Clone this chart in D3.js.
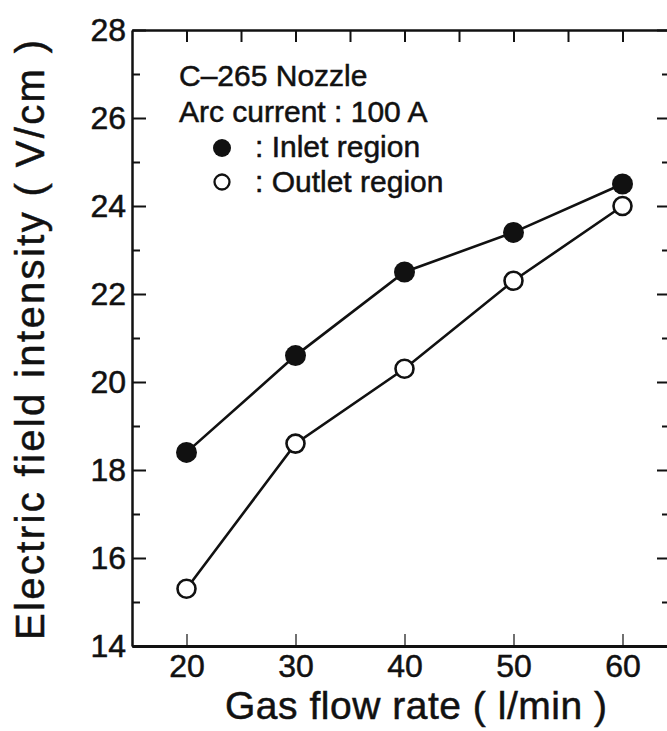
<!DOCTYPE html>
<html>
<meta charset="utf-8">
<style>
  body { margin: 0; background: #fff; }
  svg { font-family: "Liberation Sans", Arial, sans-serif; }
  .axis path, .axis line { stroke: #111; }
  .axis text { fill: #111; }
  .heavy { stroke: #111; stroke-width: 0.5; }
</style>
<body>
<script src="https://d3js.org/d3.v7.min.js"></script>
<script>
  // data
  let flowRates = [20, 30, 40, 50, 60];
  let inletField = [18.4, 20.6, 22.5, 23.4, 24.5];
  let outletField = [15.3, 18.6, 20.3, 22.3, 24.0];
  let xTicks = [20, 30, 40, 50, 60];
  let xMinorTicks = [25, 35, 45, 55];
  let yTicks = [14, 16, 18, 20, 22, 24, 26, 28];
  let yMinorTicks = [15, 17, 19, 21, 23, 25, 27];

  const W = 667, H = 731;
  const svg = d3.select("body").append("svg").attr("width", W).attr("height", H);

  const x = d3.scaleLinear().domain([15, 65]).range([132, 677]);
  const y = d3.scaleLinear().domain([14, 28]).range([646, 30]);
  const plotLeft = x(15), plotRight = x(65), plotTop = y(28), plotBottom = y(14);

  // left axis: ticks pointing inside, labels outside
  svg.append("g").attr("class", "axis")
    .attr("transform", `translate(${plotLeft},0)`)
    .call(d3.axisLeft(y).tickValues(yTicks).tickSizeInner(-14).tickSizeOuter(0).tickPadding(6).tickFormat(d3.format("d")))
    .call(g => g.select(".domain").attr("stroke-width", 2.5))
    .call(g => g.selectAll("line").attr("stroke-width", 2))
    .call(g => g.selectAll("text").attr("class", "heavy").attr("font-size", 32).attr("font-family", "Liberation Sans, Arial, sans-serif"));
  svg.append("g").attr("class", "axis")
    .attr("transform", `translate(${plotLeft},0)`)
    .call(d3.axisLeft(y).tickValues(yMinorTicks).tickSizeInner(-8).tickSizeOuter(0).tickFormat(""))
    .call(g => g.select(".domain").remove())
    .call(g => g.selectAll("line").attr("stroke-width", 2));

  // right axis (frame mostly off the page)
  svg.append("g").attr("class", "axis")
    .attr("transform", `translate(${plotRight},0)`)
    .call(d3.axisLeft(y).tickValues(yTicks).tickSizeInner(20).tickSizeOuter(0).tickFormat(""))
    .call(g => g.select(".domain").attr("stroke-width", 2.5))
    .call(g => g.selectAll("line").attr("stroke-width", 2));
  svg.append("g").attr("class", "axis")
    .attr("transform", `translate(${plotRight},0)`)
    .call(d3.axisLeft(y).tickValues(yMinorTicks).tickSizeInner(15).tickSizeOuter(0).tickFormat(""))
    .call(g => g.select(".domain").remove())
    .call(g => g.selectAll("line").attr("stroke-width", 2));

  // bottom axis
  svg.append("g").attr("class", "axis")
    .attr("transform", `translate(0,${plotBottom})`)
    .call(d3.axisBottom(x).tickValues(xTicks).tickSizeInner(-12).tickSizeOuter(0).tickPadding(8).tickFormat(d3.format("d")))
    .call(g => g.select(".domain").attr("stroke-width", 3))
    .call(g => g.selectAll("line").attr("stroke-width", 1.2).attr("stroke", "#777"))
    .call(g => g.selectAll("text").attr("class", "heavy").attr("font-size", 32).attr("font-family", "Liberation Sans, Arial, sans-serif"));

  // top axis
  svg.append("g").attr("class", "axis")
    .attr("transform", `translate(0,${plotTop})`)
    .call(d3.axisTop(x).tickValues(xTicks.concat(xMinorTicks)).tickSizeInner(-12).tickSizeOuter(0).tickFormat(""))
    .call(g => g.select(".domain").attr("stroke-width", 2.5))
    .call(g => g.selectAll("line").attr("stroke-width", 2));

  // axis titles
  svg.append("text").attr("class", "heavy")
    .attr("x", 416).attr("y", 719)
    .attr("text-anchor", "middle")
    .attr("font-size", 39)
    .attr("fill", "#111")
    .attr("textLength", 382).attr("lengthAdjust", "spacing")
    .text("Gas flow rate ( l/min )");

  svg.append("text").attr("class", "heavy")
    .attr("transform", "translate(44,340) rotate(-90)")
    .attr("text-anchor", "middle")
    .attr("font-size", 40)
    .attr("fill", "#111")
    .attr("textLength", 600).attr("lengthAdjust", "spacing")
    .text("Electric field intensity ( V/cm )");

  // series
  const line = d3.line().x((d, i) => x(flowRates[i])).y(d => y(d));
  svg.append("path").datum(outletField)
    .attr("d", line).attr("fill", "none").attr("stroke", "#111").attr("stroke-width", 2.6);
  svg.append("path").datum(inletField)
    .attr("d", line).attr("fill", "none").attr("stroke", "#111").attr("stroke-width", 2.6);

  svg.selectAll(".outlet").data(outletField).enter().append("circle")
    .attr("class", "outlet")
    .attr("cx", (d, i) => x(flowRates[i])).attr("cy", d => y(d))
    .attr("r", 9).attr("fill", "#fff").attr("stroke", "#111").attr("stroke-width", 2.6);
  svg.selectAll(".inlet").data(inletField).enter().append("circle")
    .attr("class", "inlet")
    .attr("cx", (d, i) => x(flowRates[i])).attr("cy", d => y(d))
    .attr("r", 10.5).attr("fill", "#111");

  // legend / annotation
  const leg = svg.append("g").attr("font-size", 30).attr("fill", "#111");
  leg.append("text").attr("class", "heavy").attr("x", 179).attr("y", 86).text("C–265 Nozzle");
  leg.append("text").attr("class", "heavy").attr("x", 179).attr("y", 122).text("Arc current : 100 A");
  leg.append("circle").attr("cx", 222).attr("cy", 148).attr("r", 9).attr("fill", "#111");
  leg.append("text").attr("class", "heavy").attr("x", 255).attr("y", 157).text(": Inlet region");
  leg.append("circle").attr("cx", 222).attr("cy", 182).attr("r", 7.5).attr("fill", "#fff").attr("stroke", "#111").attr("stroke-width", 2.3);
  leg.append("text").attr("class", "heavy").attr("x", 255).attr("y", 192).text(": Outlet region");
</script>
</body>
</html>
